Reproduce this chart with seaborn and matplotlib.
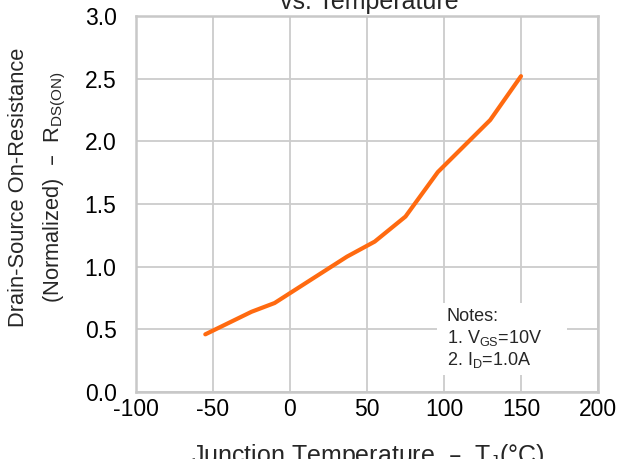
import matplotlib
matplotlib.use("Agg")
import matplotlib.pyplot as plt
from matplotlib.patches import Rectangle
import seaborn as sns
import pandas as pd

temperature = [-55, -25, -10, 37, 55, 75, 96, 130, 150]
rds_on = [0.46, 0.64, 0.71, 1.08, 1.20, 1.40, 1.755, 2.17, 2.52]
x_ticks = [-100, -50, 0, 50, 100, 150, 200]
y_ticks = [0.0, 0.5, 1.0, 1.5, 2.0, 2.5, 3.0]

sns.set_style("whitegrid")
plt.rcParams['font.family'] = ['Liberation Sans', 'DejaVu Sans']
plt.rcParams['mathtext.default'] = 'regular'

df = pd.DataFrame({"T": temperature, "R": rds_on})

W, H = 621, 459
fig = plt.figure(figsize=(W/100, H/100), dpi=100)
ax = fig.add_axes([136/W, 1-392/H, (598-136)/W, (392-16)/H])
sns.lineplot(data=df, x="T", y="R", ax=ax, color="#FF6A10", linewidth=3,
             solid_capstyle='round', zorder=5)

ax.set_xlim(-100, 200)
ax.set_ylim(0, 3.0)
ax.set_xticks(x_ticks)
ax.set_yticks(y_ticks)
ax.set_xticklabels([str(v) for v in x_ticks])
ax.set_yticklabels([f"{v:.1f}" for v in y_ticks])
ax.tick_params(axis='both', labelsize=16.5, colors='black', length=0)
ax.tick_params(axis='y', pad=14)
ax.tick_params(axis='x', pad=4)
ax.grid(True, color="#cccccc", linewidth=1.3)
for s in ax.spines.values():
    s.set_color("#c8c8c8")
    s.set_linewidth(1.8)
ax.set_xlabel("")
ax.set_ylabel("")

fig.text(369/W, 1-9/H, "vs. Temperature", ha='center', va='baseline', fontsize=18)
fig.text(368/W, 1-463/H, "Junction Temperature  \u2013  T$_J$(\u00b0C)", ha='center', va='baseline', fontsize=18)
fig.text(19/W, 1-187/H, "Drain-Source On-Resistance", rotation=90, ha='center', va='center', fontsize=15.75)
fig.text(55/W, 1-187/H, "(Normalized)  \u2013  R$_{DS(ON)}$", rotation=90, ha='center', va='center', fontsize=15.75)

ax.add_patch(Rectangle(((437-136)/462, (392-375)/376), (567-437)/462, (375-303)/376,
                       transform=ax.transAxes, facecolor='white', edgecolor='none', zorder=3))
fig.text(447/W, 1-339/H, "Notes:\n1. V$_{GS}$=10V\n2. I$_D$=1.0A",
         ha='left', va='center', fontsize=13, linespacing=1.15, zorder=6)

fig.savefig("out.png", dpi=100)
